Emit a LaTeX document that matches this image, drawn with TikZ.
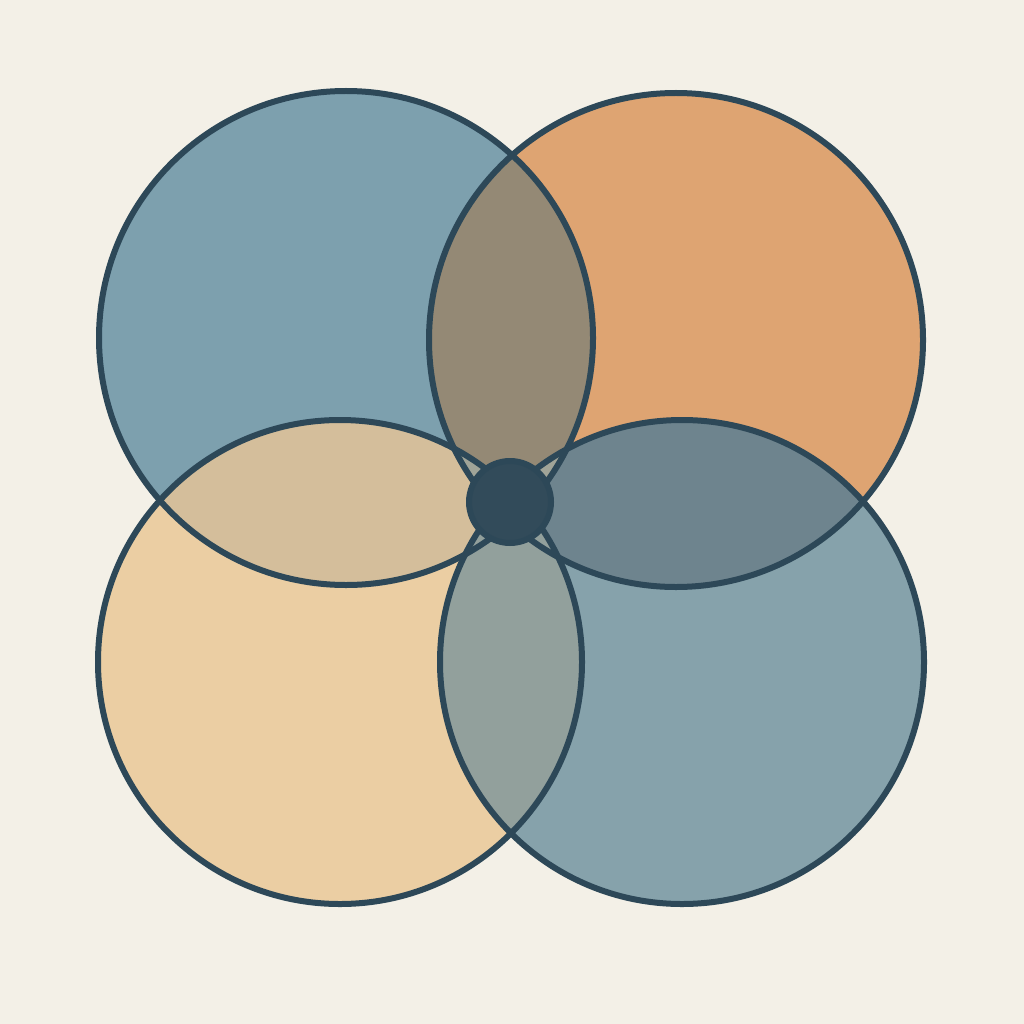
\documentclass[tikz,border=0pt]{standalone}
\usepackage{tikz}

\definecolor{paper}{RGB}{243,240,231}
\definecolor{edge}{RGB}{45,72,88}
\definecolor{hub}{RGB}{50,75,90}
\definecolor{blueTL}{RGB}{125,160,174}
\definecolor{orangeTR}{RGB}{222,164,114}
\definecolor{sandBL}{RGB}{235,206,163}
\definecolor{blueBR}{RGB}{134,162,171}
\definecolor{lensTop}{RGB}{148,137,117}
\definecolor{lensRight}{RGB}{110,132,142}
\definecolor{lensBottom}{RGB}{146,160,156}
\definecolor{lensLeft}{RGB}{212,190,155}
\definecolor{lensMid}{RGB}{160,164,152}

\begin{document}
\begin{tikzpicture}[x=1pt,y=-1pt, ring/.style={line width=6pt, draw=edge}]
            \fill[paper] (0,0) rectangle (1024,1024);
            \coordinate (tl) at (346,338);
            \coordinate (tr) at (676,340);
            \coordinate (bl) at (340,662);
            \coordinate (br) at (682,662);
            % plain discs
            \fill[blueTL] (tl) circle (247pt);
            \fill[orangeTR] (tr) circle (247pt);
            \fill[sandBL] (bl) circle (242pt);
            \fill[blueBR] (br) circle (242pt);
            % overlaps
            \begin{scope}
                \clip (tl) circle (247pt);
                \fill[lensTop] (tr) circle (247pt);
                \fill[lensLeft] (bl) circle (242pt);
            \end{scope}
            \begin{scope}
                \clip (br) circle (242pt);
                \fill[lensRight] (tr) circle (247pt);
                \fill[lensBottom] (bl) circle (242pt);
            \end{scope}
            \begin{scope}
                \clip (tl) circle (247pt);
                \clip (tr) circle (247pt);
                \fill[lensMid] (bl) circle (242pt);
                \fill[lensMid] (br) circle (242pt);
            \end{scope}
            % outlines
            \draw[ring] (tl) circle (247pt);
            \draw[ring] (tr) circle (247pt);
            \draw[ring] (bl) circle (242pt);
            \draw[ring] (br) circle (242pt);
            \draw[ring, fill=hub] (510,502) circle (41pt);
\end{tikzpicture}
\end{document}
